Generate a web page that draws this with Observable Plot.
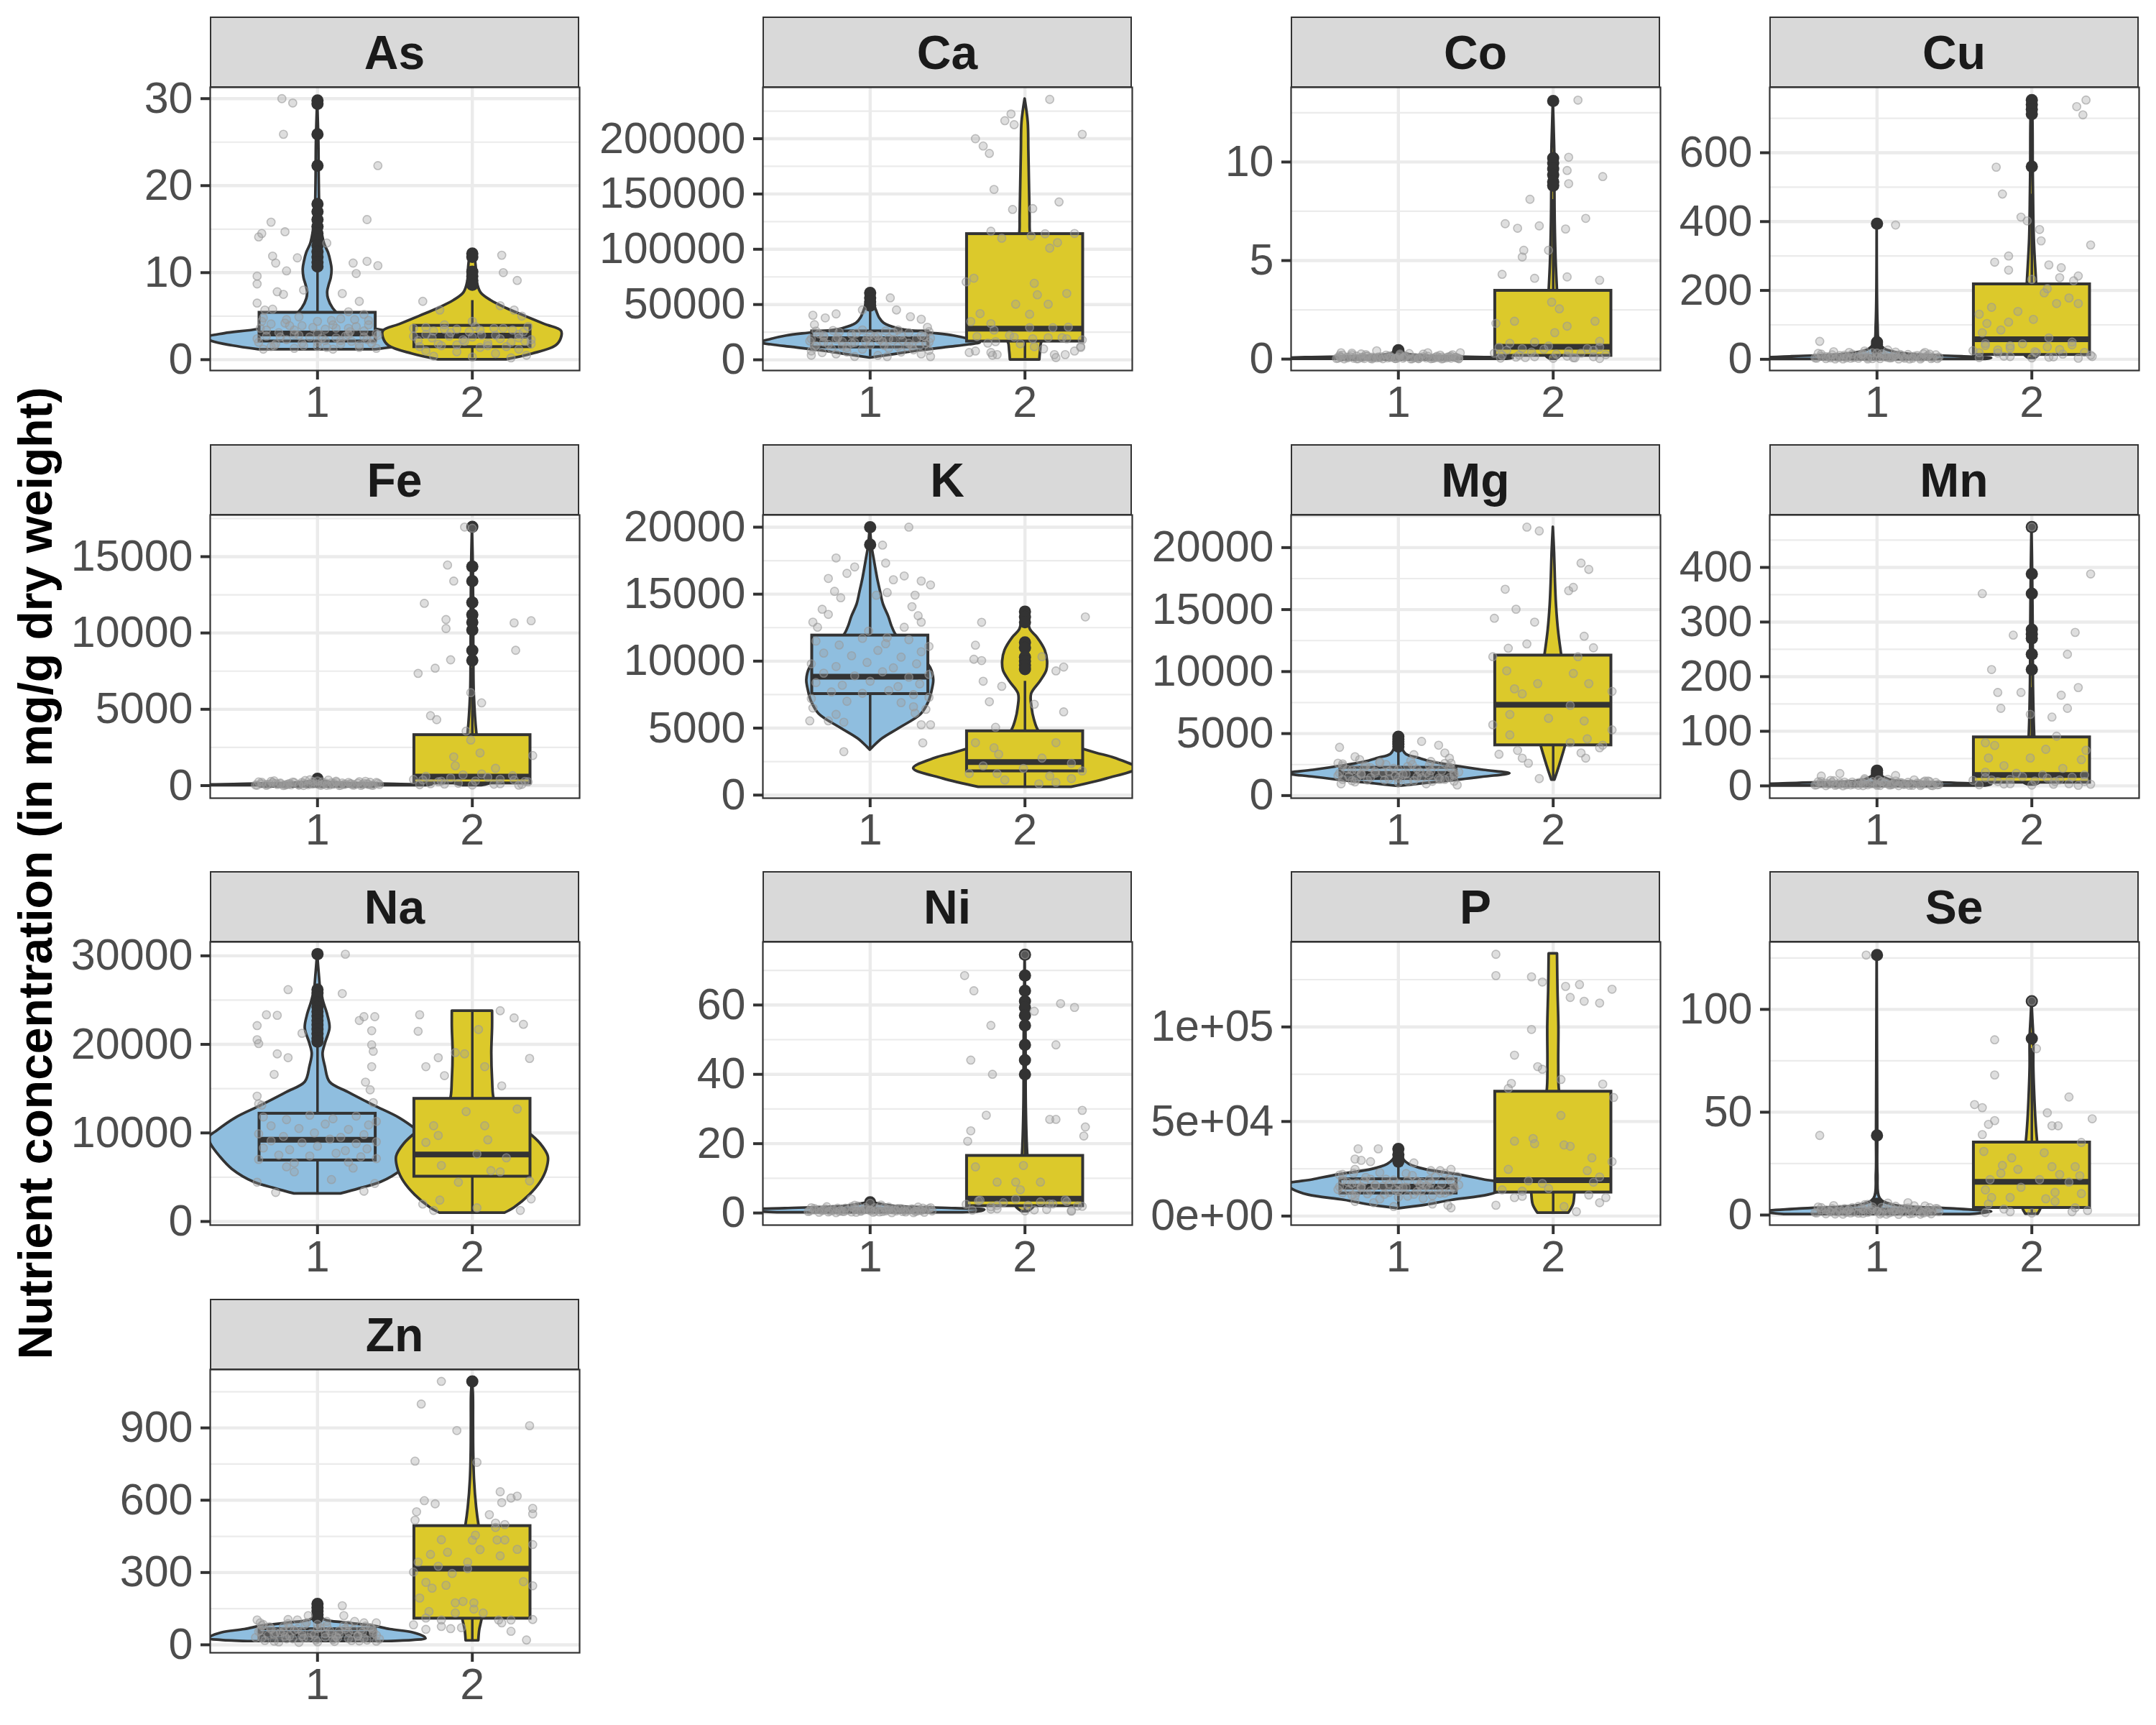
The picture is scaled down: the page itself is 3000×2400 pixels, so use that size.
<!DOCTYPE html>
<html><head><meta charset="utf-8">
<script src="https://cdn.jsdelivr.net/npm/d3@7"></script>
<script src="https://cdn.jsdelivr.net/npm/@observablehq/plot@0.6"></script>
<style>
body{margin:0;background:#fff;}
#chart{position:relative;width:3000px;height:2400px;background:#fff;font-family:"Liberation Sans",Arial,sans-serif;overflow:hidden;}
.strip{position:absolute;box-sizing:border-box;background:#D9D9D9;border:2.2px solid #333;display:flex;align-items:center;justify-content:center;font-weight:bold;font-size:66px;color:#1A1A1A;}
</style></head><body><div id="chart"></div><script>
// ---------------- DATA ----------------
const elements = ["As","Ca","Co","Cu","Fe","K","Mg","Mn","Na","Ni","P","Se","Zn"];
const groups = [1, 2];

// As
const As_box = [{g:1, lo:1.2, q1:2.1, med:3.0, q3:5.4, hi:10.4},{g:2, lo:0.2, q1:1.45, med:2.75, q3:3.9, hi:6.8}];
const As_out1 = [29.8,29.4,25.9,22.3,17.9,17.0,16.1,15.3,14.5,13.8,13.1,12.4,11.8,11.2,10.7];
const As_out2 = [12.2,11.8,10.1,9.6,9.1,8.6];
const As_vio1 = [[1.15,0.38],[1.6,0.55],[2.1,0.68],[2.5,0.72],[3.0,0.6],[3.5,0.38],[4.2,0.25],[5.0,0.15],[5.9,0.1],[7.0,0.07],[7.8,0.065],[8.6,0.075],[9.4,0.088],[10.4,0.093],[11.3,0.085],[12.3,0.07],[13.3,0.045],[14.5,0.03],[16,0.02],[18,0.013],[21,0.01],[25,0.008],[29.8,0]];
const As_vio2 = [[0,0.22],[0.67,0.39],[1.6,0.54],[2.5,0.575],[3.3,0.575],[4.05,0.47],[5.0,0.34],[5.9,0.22],[6.8,0.12],[7.7,0.055],[9.0,0.03],[10.5,0.025],[11.5,0.018],[12.2,0]];
const As_jit1 = [[-0.23,30.0],[-0.16,29.5],[-0.22,25.9],[0.39,22.3],[-0.30,15.8],[0.32,16.1],[-0.36,14.5],[-0.38,14.1],[-0.21,14.7],[0.06,13.4],[-0.29,11.9],[-0.13,11.7],[0.23,11.1],[0.32,11.3],[0.39,10.8],[-0.27,11.1],[-0.20,10.2],[-0.39,9.6],[-0.39,8.7],[0.25,9.9],[-0.09,8.0],[-0.26,7.8],[-0.22,7.5],[0.16,7.6],[-0.39,6.5],[0.27,6.7],[-0.34,5.7],[-0.29,5.8],[0.2,5.5],[0.3,5.2],[-0.35,4.8],[-0.2,4.6],[0.0,4.4],[0.15,4.7],[0.33,4.5],[-0.3,4.1],[-0.1,3.9],[0.1,4.0],[0.25,3.8],[-0.37,3.6],[-0.15,3.4],[0.05,3.5],[0.3,3.3],[-0.25,3.1],[0.0,3.0],[0.2,2.9],[0.38,3.0],[-0.33,2.7],[-0.05,2.6],[0.12,2.5],[0.3,2.6],[-0.2,2.3],[0.05,2.2],[0.22,2.1],[-0.38,2.0],[-0.1,1.9],[0.15,1.8],[0.35,1.9],[-0.28,1.6],[0.0,1.5],[0.27,1.4],[-0.15,1.3],[0.1,1.2],[0.38,1.3],[-0.35,1.2],[0.2,3.6],[-0.12,2.8],[0.32,2.3]];
const As_jit1b = [[-0.39,2.4],[-0.33,3.4],[-0.27,1.8],[-0.21,4.2],[-0.15,2.9],[-0.09,1.6],[-0.03,3.7],[0.03,2.5],[0.09,4.5],[0.15,2.2],[0.21,3.2],[0.27,1.7],[0.33,4.0],[0.39,2.8],[-0.36,4.4],[-0.24,2.6],[-0.12,4.9],[0.0,2.0],[0.12,3.6],[0.24,4.6],[0.36,2.3],[-0.3,1.5],[-0.18,3.9],[0.06,1.4],[0.18,2.7]];
const As_jit2 = [[0.19,12.0],[0.2,10.0],[0.29,9.1],[-0.32,6.7],[0.18,6.2],[0.27,5.7],[0.32,5.0],[-0.21,5.7],[0.0,4.4],[-0.38,3.6],[-0.25,3.3],[-0.1,3.5],[0.05,3.4],[0.2,3.6],[0.33,3.2],[-0.3,2.9],[-0.15,2.7],[0.0,2.6],[0.15,2.8],[0.3,2.5],[-0.35,2.2],[-0.05,2.1],[0.1,1.9],[0.25,2.0],[0.38,1.8],[-0.2,1.6],[0.05,1.4],[0.3,1.2],[-0.3,1.0],[-0.1,0.9],[0.15,0.7],[0.35,0.5],[-0.25,0.4],[0.0,0.3],[0.25,0.2],[0.36,3.8],[-0.18,4.0]];
const As_jit2b = [[-0.38,2.7],[-0.3,3.7],[-0.22,1.8],[-0.14,3.1],[-0.06,2.3],[0.02,3.8],[0.1,1.6],[0.18,2.4],[0.26,3.4],[0.34,2.1],[-0.34,1.5],[-0.26,2.5],[-0.18,3.5],[-0.1,1.7],[-0.02,3.2],[0.06,2.8],[0.14,3.6],[0.22,1.5],[0.3,2.9],[0.38,2.3]];

// Ca
const Ca_box = [{g:1, lo:2900, q1:11300, med:18600, q3:25800, hi:46000},{g:2, lo:1000, q1:16600, med:28200, q3:113800, hi:113800}];
const Ca_out1 = [60500,56000,52500,49000];
const Ca_out2 = [];
const Ca_vio1 = [[1700,0],[4100,0.12],[7700,0.29],[11300,0.5],[13700,0.64],[15400,0.71],[18600,0.64],[21700,0.54],[24600,0.37],[28200,0.18],[33000,0.09],[37900,0.06],[42700,0.045],[48700,0.03],[56000,0.02],[60800,0]];
const Ca_vio2 = [[0,0.095],[8000,0.1],[16600,0.11],[30000,0.2],[60000,0.15],[100000,0.06],[113800,0.035],[130000,0.032],[160000,0.028],[190000,0.024],[215000,0.02],[236000,0]];
const Ca_jit1 = [[-0.37,40300],[-0.29,37900],[-0.22,41500],[0.13,56000],[0.17,45100],[0.33,36700],[0.26,39000],[-0.05,45100],[-0.36,31800],[0.37,29400],[-0.38,4100],[-0.31,6500],[-0.22,5300],[0.11,2900],[0.33,5300],[0.39,2900],[-0.35,26000],[-0.2,25000],[-0.05,27000],[0.1,26000],[0.25,24500],[0.38,25500],[-0.3,22000],[-0.12,23000],[0.05,21500],[0.2,22500],[0.35,21000],[-0.38,19000],[-0.22,18500],[-0.02,19500],[0.15,18000],[0.3,19000],[-0.3,16000],[-0.1,15500],[0.08,16500],[0.25,15000],[0.38,16000],[-0.35,13000],[-0.18,12500],[0.0,13500],[0.18,12000],[0.32,13000],[-0.25,10000],[-0.05,9500],[0.12,10500],[0.28,9000],[-0.38,8000],[0.38,8500],[-0.15,7000],[0.2,7000],[0.05,4000],[-0.1,3000]];
const Ca_jit1b = [[-0.39,17000],[-0.33,23500],[-0.27,14000],[-0.21,20000],[-0.15,11000],[-0.09,24000],[-0.03,16500],[0.03,21000],[0.09,13000],[0.15,25000],[0.21,17500],[0.27,12500],[0.33,22000],[0.39,19500],[-0.36,11500],[-0.24,26500],[-0.12,15000],[0.0,22500],[0.12,19000],[0.24,11500],[0.36,14500],[-0.3,20500],[-0.18,16500],[0.06,18000],[0.18,27000]];
const Ca_jit2 = [[0.16,235600],[-0.09,222400],[-0.13,216300],[-0.07,212700],[-0.32,200000],[0.37,204000],[-0.27,193400],[-0.23,186700],[-0.2,154100],[0.22,142800],[-0.08,136000],[0.05,136800],[-0.22,116300],[0.32,114300],[-0.15,110000],[0.04,112000],[0.13,114000],[0.16,101000],[0.21,106000],[-0.38,70500],[-0.33,73800],[0.06,69200],[0.08,58800],[0.27,60000],[-0.06,50300],[0.15,50300],[-0.29,41800],[0.03,41200],[-0.35,34600],[-0.22,32700],[-0.2,26900],[0.03,29000],[0.18,29000],[0.28,29500],[-0.31,21000],[-0.1,22000],[-0.07,20500],[0.05,19000],[0.15,20000],[0.24,20000],[0.27,19000],[0.37,18000],[-0.24,15100],[-0.19,16400],[-0.03,14500],[0.06,11900],[0.12,9900],[0.36,11900],[-0.36,6600],[-0.32,7900],[-0.22,6600],[-0.18,4700],[0.19,4700],[0.26,4700],[0.32,7900],[0.36,11200],[-0.21,4100],[0.2,2000]];

// Co
const Co_box = [{g:1, lo:0, q1:0.03, med:0.06, q3:0.1, hi:0.2},{g:2, lo:0.02, q1:0.17, med:0.62, q3:3.47, hi:8.1}];
const Co_out1 = [0.45,0.38];
const Co_out2 = [13.1,10.2,9.95,9.65,9.35,9.0,8.8];
const Co_vio1 = [[0,0.7],[0.03,0.74],[0.08,0.6],[0.15,0.2],[0.25,0.06],[0.45,0]];
const Co_vio2 = [[0,0.02],[0.15,0.045],[0.5,0.05],[1.5,0.04],[3,0.03],[5,0.018],[7,0.012],[9,0.01],[10.2,0.01],[11.5,0.006],[13.1,0]];
const Co_jit1 = [[-0.39,0.05],[-0.33,0.1],[-0.27,0.02],[-0.2,0.15],[-0.14,0.06],[-0.08,0.2],[-0.02,0.03],[0.04,0.12],[0.1,0.07],[0.16,0.25],[0.22,0.04],[0.28,0.1],[0.34,0.16],[0.39,0.03],[-0.36,0.2],[-0.24,0.08],[-0.11,0.12],[0.01,0.18],[0.13,0.02],[0.25,0.14],[0.37,0.09],[-0.3,0.3],[0.19,0.32],[-0.05,0.08],[0.07,0.28],[-0.17,0.01],[0.31,0.06],[-0.21,0.23],[0.35,0.22],[-0.38,0.12],[-0.37,0.32],[-0.24,0.26],[-0.14,0.42],[0.4,0.32]];
const Co_jit1b = [[-0.40,0.03],[-0.37,0.08],[-0.35,0.01],[-0.31,0.12],[-0.29,0.05],[-0.26,0.02],[-0.23,0.09],[-0.21,0.14],[-0.18,0.04],[-0.16,0.07],[-0.13,0.11],[-0.10,0.02],[-0.07,0.06],[-0.05,0.13],[-0.02,0.03],[0.00,0.09],[0.03,0.05],[0.05,0.15],[0.08,0.01],[0.11,0.08],[0.13,0.04],[0.16,0.12],[0.18,0.06],[0.21,0.02],[0.24,0.10],[0.26,0.07],[0.29,0.03],[0.32,0.11],[0.34,0.05],[0.37,0.08],[0.39,0.02],[-0.38,0.18],[-0.33,0.06],[-0.27,0.15],[-0.22,0.03],[-0.17,0.10],[-0.12,0.07],[-0.06,0.16],[-0.01,0.04],[0.04,0.12],[0.09,0.02],[0.14,0.09],[0.19,0.14],[0.23,0.05],[0.28,0.01],[0.33,0.11],[0.38,0.06],[-0.30,0.22],[0.01,0.25],[0.27,0.20]];
const Co_jit2 = [[0.16,13.14],[0.10,10.24],[0.09,9.57],[0.10,8.9],[0.32,9.26],[-0.15,8.11],[0.21,7.14],[-0.31,6.87],[-0.23,6.64],[-0.09,6.76],[0.08,6.6],[-0.19,5.52],[-0.2,5.18],[-0.03,5.52],[-0.33,4.3],[-0.12,4.1],[0.09,4.17],[0.3,4.0],[-0.01,2.89],[0.04,2.55],[-0.25,1.92],[0.27,1.92],[0.09,1.67],[0.01,1.34],[-0.37,1.81],[-0.28,0.8],[-0.12,0.86],[0.3,0.9],[-0.35,0.6],[-0.2,0.53],[-0.03,0.66],[0.22,0.53],[0.3,0.6],[-0.33,0.19],[-0.12,0.12],[0.09,0.15],[0.26,0.12],[-0.24,0.1],[0.13,0.07]];
const Co_jit2b = [[-0.38,0.3],[-0.3,0.45],[-0.22,0.2],[-0.14,0.35],[-0.06,0.5],[0.02,0.25],[0.1,0.4],[0.18,0.3],[0.26,0.45],[0.34,0.22],[-0.34,0.05],[-0.18,0.08],[0.0,0.04],[0.14,0.06],[0.3,0.03]];

// Cu
const Cu_box = [{g:1, lo:0, q1:2, med:5, q3:10, hi:22},{g:2, lo:3, q1:13, med:58, q3:218, hi:480}];
const Cu_out1 = [394,50,44,27];
const Cu_out2 = [753,740,726,712,560];
const Cu_vio1 = [[0,0.7],[3,0.74],[8,0.55],[15,0.2],[30,0.05],[50,0.015],[100,0.006],[394,0]];
const Cu_vio2 = [[3,0.02],[15,0.05],[50,0.05],[120,0.04],[220,0.03],[350,0.015],[480,0.01],[560,0.008],[700,0.006],[753,0]];
const Cu_jit1 = [[-0.37,52],[0.12,390],[-0.39,3],[-0.33,8],[-0.27,1],[-0.21,12],[-0.15,5],[-0.09,16],[-0.03,2],[0.03,9],[0.09,4],[0.15,14],[0.21,1],[0.27,7],[0.33,11],[0.39,2],[-0.36,15],[-0.24,6],[-0.12,10],[0.0,18],[0.06,6],[0.18,3],[0.3,16],[0.36,5],[-0.3,4],[-0.18,20],[0.24,9],[-0.06,1],[0.12,12]];
const Cu_jit1b = [[-0.40,4],[-0.36,9],[-0.33,2],[-0.29,13],[-0.26,6],[-0.22,1],[-0.19,8],[-0.16,15],[-0.12,3],[-0.09,10],[-0.06,5],[-0.03,19],[0.00,7],[0.02,2],[0.05,12],[0.08,4],[0.11,9],[0.14,1],[0.17,6],[0.20,14],[0.23,3],[0.26,11],[0.29,5],[0.32,8],[0.35,2],[0.38,13],[0.40,6],[-0.38,17],[-0.31,7],[-0.24,11],[-0.17,3],[-0.10,14],[-0.04,9],[0.03,16],[0.10,6],[0.16,11],[0.22,8],[0.28,1],[0.34,15],[-0.28,22],[-0.08,24],[0.12,21],[0.31,20],[-0.20,4],[0.07,27]];
const Cu_jit2 = [[0.35,753],[0.29,734],[0.33,710],[-0.23,558],[-0.19,480],[-0.07,413],[-0.03,402],[0.05,377],[0.06,344],[0.38,332],[-0.24,282],[-0.15,300],[-0.15,259],[0.11,274],[0.19,266],[0.18,237],[0.3,242],[0.27,228],[0.0,232],[0.1,205],[0.08,193],[0.24,178],[0.3,162],[0.16,162],[-0.26,151],[-0.09,139],[-0.34,131],[0.01,116],[-0.15,108],[-0.29,104],[-0.2,85],[-0.32,77],[0.11,62],[0.26,50],[-0.3,46],[-0.14,39],[-0.22,27],[-0.34,19],[0.03,19],[0.2,15],[0.38,12],[-0.14,8],[0.11,6],[0.39,8]];
const Cu_jit2b = [[-0.38,25],[-0.3,40],[-0.22,18],[-0.14,32],[-0.06,45],[0.02,22],[0.1,36],[0.18,28],[0.26,42],[0.34,20],[-0.34,5],[-0.18,9],[0.0,4],[0.14,7],[0.3,3]];

// Fe
const Fe_box = [{g:1, lo:0, q1:20, med:50, q3:100, hi:230},{g:2, lo:0, q1:150, med:590, q3:3313, hi:7700}];
const Fe_out1 = [450,350];
const Fe_out2 = [16950,14350,13400,12000,11200,10700,10200,8850,8200];
const Fe_vio1 = [[0,0.7],[30,0.74],[90,0.5],[180,0.12],[300,0.03],[450,0]];
const Fe_vio2 = [[0,0.06],[200,0.12],[600,0.1],[1500,0.06],[3300,0.03],[6000,0.012],[8000,0.009],[11000,0.008],[14000,0.006],[16950,0]];
const Fe_jit1 = [[-0.39,20],[-0.33,80],[-0.27,150],[-0.21,40],[-0.15,200],[-0.09,10],[-0.03,100],[0.03,60],[0.09,180],[0.15,30],[0.21,120],[0.27,250],[0.33,70],[0.39,160],[-0.36,220],[-0.24,110],[-0.12,60],[0.0,300],[0.06,20],[0.18,90],[0.3,140],[0.36,30],[-0.3,270],[-0.18,140],[0.24,50],[0.12,230],[-0.05,380]];
const Fe_jit1b = [[-0.40,40],[-0.36,120],[-0.33,15],[-0.29,190],[-0.26,70],[-0.22,5],[-0.19,100],[-0.16,230],[-0.12,35],[-0.09,150],[-0.06,60],[-0.03,260],[0.00,90],[0.02,20],[0.05,170],[0.08,45],[0.11,130],[0.14,10],[0.17,80],[0.20,210],[0.23,30],[0.26,160],[0.29,55],[0.32,110],[0.35,25],[0.38,200],[0.40,75],[-0.38,240],[-0.31,95],[-0.24,165],[-0.17,50],[-0.10,205],[-0.04,125],[0.03,235],[0.10,85],[0.16,175],[0.22,115],[0.28,15],[0.34,215],[-0.28,310],[-0.08,330],[0.12,290],[0.31,280],[-0.20,60],[0.07,360]];
const Fe_jit2 = [[-0.05,16940],[0.0,16860],[-0.16,14450],[-0.12,13400],[-0.31,11940],[-0.17,10880],[-0.17,10290],[0.27,10660],[0.38,10800],[0.28,8864],[-0.14,8240],[-0.24,7690],[-0.35,7350],[-0.01,6090],[0.06,5420],[-0.27,4580],[-0.23,4320],[-0.04,3570],[-0.01,2980],[0.05,2140],[-0.12,1880],[-0.11,1300],[0.15,1130],[0.39,1970],[0.06,760],[-0.32,370],[-0.2,290],[0.27,370],[0.36,250],[-0.27,120],[-0.09,150],[0.18,120],[0.32,80]];
const Fe_jit2b = [[-0.38,400],[-0.3,600],[-0.22,250],[-0.14,500],[-0.06,700],[0.02,300],[0.1,550],[0.18,420],[0.26,650],[0.34,280],[-0.34,60],[-0.18,100],[0.0,40],[0.14,90],[0.3,30]];

// K
const K_box = [{g:1, lo:3364, q1:7549, med:8833, q3:11917, hi:18300},{g:2, lo:594, q1:1780, med:2470, q3:4770, hi:8500}];
const K_out1 = [20000,18700];
const K_out2 = [13700,13300,12900,11400,11000,10300,10000,9700,9400];
const K_vio1 = [[3364,0],[3600,0.02],[4220,0.08],[5000,0.19],[6050,0.33],[7000,0.38],[7820,0.40],[8600,0.41],[9500,0.39],[10500,0.32],[11300,0.24],[11917,0.17],[12600,0.14],[13300,0.12],[14250,0.085],[15200,0.066],[16200,0.047],[17100,0.033],[17700,0.024],[18500,0.012],[20000,0]];
const K_vio2 = [[594,0.3],[1226,0.53],[1990,0.72],[2760,0.58],[3140,0.46],[3700,0.3],[4300,0.15],[4770,0.09],[5630,0.06],[6500,0.045],[7550,0.042],[8500,0.1],[9300,0.14],[10000,0.145],[10800,0.13],[11760,0.08],[12340,0.035],[13000,0.02],[13680,0]];
const K_jit1 = [[0.25,20000],[0.08,18660],[-0.22,17700],[0.1,17320],[-0.27,16170],[-0.15,16550],[-0.1,17030],[0.22,16360],[0.15,16075],[0.33,15980],[0.39,15690],[-0.23,15210],[0.11,15120],[0.29,14925],[-0.19,14730],[0.04,14920],[0.27,14065],[-0.31,13870],[-0.27,13490],[-0.37,12910],[0.31,13390],[0.33,12910],[0.22,12530],[-0.34,12530],[-0.01,12240],[0.11,11760],[-0.39,5540],[-0.27,5540],[-0.17,5440],[-0.37,6500],[-0.22,6020],[0.33,5250],[0.39,5250],[0.29,6110],[0.36,6400],[-0.17,3240],[0.34,3900],[0.28,6590],[-0.35,11500],[-0.2,11200],[-0.05,11700],[0.1,11300],[0.25,11600],[0.38,11100],[-0.3,10600],[-0.12,10400],[0.05,10800],[0.2,10300],[0.33,10700],[-0.38,9800],[-0.22,9600],[-0.02,9900],[0.15,9500],[0.3,9800],[-0.3,9100],[-0.1,8900],[0.08,9200],[0.25,8800],[0.38,9000],[-0.35,8400],[-0.18,8200],[0.0,8500],[0.18,8100],[0.32,8300],[-0.25,7700],[-0.05,7600],[0.12,7800],[0.28,7500],[-0.38,7200],[0.38,7300],[-0.15,7000],[0.2,6900]];
const K_jit2 = [[0.39,13300],[-0.28,12900],[-0.32,11190],[-0.33,10140],[-0.28,10040],[0.11,10330],[0.2,9270],[0.25,9560],[-0.27,8500],[-0.15,8120],[-0.23,6970],[0.06,6780],[0.25,6210],[-0.19,5060],[0.2,3910],[-0.32,3910],[-0.2,3530],[-0.17,3050],[0.11,2760],[0.3,2380],[-0.27,2180],[-0.01,1990],[-0.18,1610],[0.16,1420],[-0.13,1130],[0.09,840],[0.3,1230],[0.37,1800],[-0.36,1610],[0.2,940]];

// Mg
const Mg_box = [{g:1, lo:800, q1:1350, med:1750, q3:2250, hi:3500},{g:2, lo:1260, q1:4060, med:7330, q3:11300, hi:11300}];
const Mg_out1 = [4750,4550,4350,4150,3950];
const Mg_out2 = [];
const Mg_vio1 = [[745,0],[950,0.15],[1200,0.35],[1500,0.55],[1780,0.72],[2050,0.55],[2400,0.36],[2700,0.22],[3020,0.13],[3330,0.05],[3800,0.025],[4750,0]];
const Mg_vio2 = [[1260,0.01],[2000,0.03],[3000,0.055],[3850,0.075],[5000,0.1],[7000,0.12],[9000,0.1],[11300,0.055],[11700,0.05],[13370,0.033],[15440,0.02],[17500,0.013],[19580,0.008],[21650,0]];
const Mg_jit1 = [[-0.38,3890],[-0.28,3130],[0.15,4370],[0.26,4060],[0.3,3440],[0.33,3020],[0.34,2610],[0.36,1160],[0.38,850],[-0.37,950],[0.18,950],[-0.39,2610],[-0.36,2400],[-0.22,2300],[-0.08,2500],[0.06,2350],[0.2,2450],[0.34,2200],[-0.3,2050],[-0.15,1950],[0.0,2100],[0.14,1900],[0.28,2000],[-0.38,1800],[-0.24,1700],[-0.1,1850],[0.05,1750],[0.2,1650],[0.36,1800],[-0.32,1550],[-0.18,1450],[-0.02,1600],[0.12,1500],[0.26,1400],[-0.36,1300],[-0.2,1250],[-0.06,1350],[0.1,1200],[0.3,1300],[-0.28,1100],[0.0,1050],[0.22,1150],[-0.12,2700],[0.08,2800],[-0.25,2900],[0.1,3300]];
const Mg_jit1b = [[-0.39,1600],[-0.33,2100],[-0.27,1350],[-0.21,2400],[-0.15,1800],[-0.09,1250],[-0.03,2200],[0.03,1700],[0.09,2500],[0.15,1450],[0.21,2000],[0.27,1300],[0.33,2300],[0.39,1900],[-0.36,2550],[-0.24,1750],[-0.12,2650],[0.0,1400],[0.12,2150],[0.24,2450],[0.36,1650],[-0.3,1200],[-0.18,2250],[0.06,1150],[0.18,1850],[0.3,2600],[-0.06,1950],[0.33,1450],[-0.27,2050],[0.21,2750]];
const Mg_jit2 = [[-0.17,21650],[-0.09,21340],[0.18,18750],[0.23,18240],[-0.31,16640],[0.1,16520],[0.13,16790],[-0.24,15030],[-0.38,14300],[-0.12,13990],[0.2,12850],[-0.17,12230],[-0.29,11880],[0.26,11920],[-0.39,11200],[0.16,11200],[-0.3,10060],[0.13,9850],[-0.1,9030],[0.23,9030],[-0.25,8610],[-0.2,8200],[0.38,8400],[0.11,7270],[-0.28,6540],[-0.03,6230],[0.2,6020],[-0.39,5710],[0.38,5300],[-0.28,4890],[0.22,4575],[0.11,4260],[-0.23,3640],[-0.35,3330],[-0.2,3020],[0.18,3440],[0.3,3850],[0.21,3020],[-0.09,1370],[-0.16,2610],[0.32,4060]];

// Mn
const Mn_box = [{g:1, lo:0, q1:1, med:2.5, q3:5, hi:11},{g:2, lo:2, q1:6, med:20, q3:89, hi:180}];
const Mn_out1 = [28,24,21,18];
const Mn_out2 = [474,388,352,286,278,270,241,213];
const Mn_vio1 = [[0,0.7],[2,0.74],[5,0.5],[10,0.1],[18,0.03],[28,0]];
const Mn_vio2 = [[2,0.02],[6,0.05],[20,0.045],[60,0.025],[90,0.018],[180,0.01],[280,0.008],[400,0.004],[474,0]];
const Mn_jit1 = [[-0.36,18],[-0.24,22.6],[-0.08,13],[0.12,19],[0.01,11],[-0.39,2],[-0.33,5],[-0.27,1],[-0.21,7],[-0.15,3],[-0.09,0.5],[-0.03,4],[0.03,8],[0.09,2],[0.15,6],[0.21,1],[0.27,4],[0.33,9],[0.39,2],[-0.36,8],[-0.24,3],[-0.12,6],[0.0,1],[0.06,5],[0.18,3],[0.3,7],[0.36,0.5],[-0.3,10],[0.24,11]];
const Mn_jit1b = [[-0.40,1.5],[-0.36,4],[-0.33,0.5],[-0.29,6],[-0.26,2.5],[-0.22,0.2],[-0.19,3.5],[-0.16,7],[-0.12,1.2],[-0.09,5],[-0.06,2],[-0.03,8],[0.00,3],[0.02,0.8],[0.05,5.5],[0.08,1.6],[0.11,4.2],[0.14,0.4],[0.17,2.8],[0.20,6.5],[0.23,1],[0.26,5.2],[0.29,2.2],[0.32,3.8],[0.35,0.9],[0.38,6.2],[0.40,2.6],[-0.38,7.5],[-0.31,3.2],[-0.24,5.8],[-0.17,1.8],[-0.10,6.8],[-0.04,4.5],[0.03,7.2],[0.10,2.9],[0.16,5.6],[0.22,3.9],[0.28,0.6],[0.34,7.8],[-0.28,9.5],[-0.08,10.5],[0.12,9],[0.31,8.8],[-0.20,2],[0.07,12]];
const Mn_jit2 = [[0,474],[0.38,388],[-0.32,352],[-0.12,276],[0.28,281],[0.23,241],[-0.26,213],[-0.22,171],[-0.07,171],[0.3,180],[0.19,166],[-0.2,142],[0.23,142],[-0.01,131],[0.13,126],[0.16,91],[-0.3,79],[-0.24,74],[0.09,67],[0.35,65],[-0.28,51],[-0.01,51],[0.32,48],[-0.18,37],[0.2,32],[-0.3,25],[-0.1,23],[0.07,20],[0.34,20],[-0.26,11],[0.15,8],[-0.14,4],[0.24,4],[0.38,3]];
const Mn_jit2b = [[-0.38,10],[-0.3,15],[-0.22,8],[-0.14,12],[-0.06,17],[0.02,9],[0.1,14],[0.18,11],[0.26,16],[0.34,8],[-0.34,2],[-0.18,3.5],[0.0,1.5],[0.14,3],[0.3,1]];

// Na
const Na_box = [{g:1, lo:3130, q1:6900, med:9220, q3:12180, hi:19900},{g:2, lo:957, q1:5070, med:7570, q3:13860, hi:23770}];
const Na_out1 = [30200,26200,25800,25300,24700,24200,23700,23200,22700,22200,21700,21200,20700,20300];
const Na_out2 = [];
const Na_vio1 = [[3130,0.15],[3700,0.27],[4435,0.41],[5885,0.55],[7330,0.63],[8780,0.69],[9500,0.7],[10230,0.65],[11680,0.53],[13130,0.36],[14580,0.2],[15740,0.08],[17480,0.05],[18930,0.035],[20090,0.05],[21830,0.08],[23280,0.066],[24730,0.04],[26180,0.02],[27630,0.012],[30240,0]];
const Na_vio2 = [[957,0.21],[1540,0.27],[2990,0.37],[4435,0.44],[5885,0.48],[7330,0.49],[8780,0.44],[10230,0.35],[11500,0.25],[12800,0.17],[13860,0.14],[16000,0.13],[19000,0.125],[22000,0.13],[23770,0.13]];
const Na_jit1 = [[0.18,30180],[-0.19,26180],[0.16,25740],[-0.33,23340],[-0.26,23280],[-0.39,22120],[-0.1,21250],[-0.39,20520],[-0.38,20090],[0.27,22700],[0.3,23130],[0.37,23130],[0.35,21540],[0.35,19950],[-0.26,18930],[-0.19,18500],[0.36,19220],[0.35,17480],[-0.28,16610],[0.31,15740],[0.34,14870],[0.36,13420],[-0.39,14150],[-0.38,13280],[-0.36,13130],[-0.39,4435],[-0.27,3280],[0.3,3420],[0.37,4290],[-0.15,5600],[0.09,4730],[-0.2,6170],[0.23,6030],[-0.35,11800],[-0.2,11500],[-0.05,12000],[0.1,11600],[0.25,11900],[0.38,11300],[-0.3,10800],[-0.12,10500],[0.05,11000],[0.2,10400],[0.33,10900],[-0.38,9900],[-0.22,9600],[-0.02,10000],[0.15,9500],[0.3,9800],[-0.3,9100],[-0.1,8900],[0.08,9300],[0.25,8800],[0.38,9000],[-0.35,8300],[-0.18,8100],[0.0,8500],[0.18,8000],[0.32,8200],[-0.25,7500],[-0.05,7400],[0.12,7700],[0.28,7300],[-0.38,7000],[0.38,7100],[-0.15,6600],[0.2,6700]];
const Na_jit2 = [[-0.34,23340],[0.18,23800],[0.27,22990],[0.33,22260],[-0.35,21480],[0.04,21680],[-0.11,19075],[-0.05,18930],[-0.22,18500],[0.37,18410],[-0.3,17480],[0.08,17480],[-0.18,16470],[0.19,15310],[-0.25,10810],[-0.04,12410],[0.29,12700],[-0.22,9710],[0.08,10810],[-0.3,8930],[0.1,9220],[0.03,7620],[0.22,7190],[-0.2,6320],[0.12,5740],[-0.09,4435],[0.18,5600],[0.37,4580],[-0.32,1970],[-0.21,2410],[0.38,2550],[0.31,1250],[0.03,1540],[-0.25,1250]];

// Ni
const Ni_box = [{g:1, lo:0.1, q1:0.5, med:0.8, q3:1.1, hi:1.9},{g:2, lo:0.4, q1:2.0, med:4.1, q3:16.5, hi:29.6}];
const Ni_out1 = [3.1,2.6,2.3];
const Ni_out2 = [74.5,68.5,64.1,61.1,59.3,57.0,54.1,48.5,44.1,40.0];
const Ni_vio1 = [[0.1,0.6],[0.5,0.72],[0.9,0.74],[1.3,0.55],[2,0.15],[3.1,0]];
const Ni_vio2 = [[0.4,0.02],[2,0.06],[5,0.05],[15,0.02],[30,0.008],[50,0.006],[74.5,0]];
const Ni_jit1 = [[-0.39,0.6],[-0.33,1.0],[-0.27,0.3],[-0.21,1.4],[-0.15,0.8],[-0.09,0.2],[-0.03,1.1],[0.03,0.5],[0.09,1.6],[0.15,0.9],[0.21,0.4],[0.27,1.2],[0.33,0.7],[0.39,1.5],[-0.36,1.3],[-0.24,0.7],[-0.12,1.8],[0.0,0.9],[0.06,0.3],[0.18,1.3],[0.3,0.5],[0.36,1.0],[-0.3,0.9],[-0.18,0.5],[0.24,0.8],[0.12,1.1],[-0.06,0.6],[0.0,2.8],[-0.1,2.2]];
const Ni_jit1b = [[-0.40,0.4],[-0.36,0.9],[-0.33,0.2],[-0.29,1.2],[-0.26,0.6],[-0.22,0.1],[-0.19,0.8],[-0.16,1.4],[-0.12,0.3],[-0.09,1.0],[-0.06,0.5],[-0.03,1.6],[0.00,0.7],[0.02,0.2],[0.05,1.1],[0.08,0.4],[0.11,0.9],[0.14,0.1],[0.17,0.6],[0.20,1.3],[0.23,0.3],[0.26,1.0],[0.29,0.5],[0.32,0.8],[0.35,0.2],[0.38,1.2],[0.40,0.6],[-0.38,1.5],[-0.31,0.7],[-0.24,1.1],[-0.17,0.4],[-0.10,1.3],[-0.04,0.9],[0.03,1.5],[0.10,0.6],[0.16,1.1],[0.22,0.8],[0.28,0.1],[0.34,1.4],[-0.28,1.8],[-0.08,2.0],[0.12,1.7],[0.31,1.7],[-0.20,0.5],[0.07,2.3]];
const Ni_jit2 = [[0,74.5],[-0.39,68.5],[-0.33,64.1],[0.06,58.2],[0.23,60.4],[0.32,59.3],[-0.22,54.1],[0.2,48.5],[-0.35,44.1],[-0.21,40.0],[-0.25,28.2],[0.37,29.6],[0.16,27],[0.2,27],[0.39,24.8],[-0.35,23.7],[-0.37,20.7],[0.38,22.2],[-0.01,13.7],[-0.32,13.3],[-0.18,8.9],[-0.06,8.9],[0.1,8.9],[-0.03,6.7],[-0.29,3.7],[0.27,3.3],[-0.18,2.2],[0.16,2.6],[0.37,1.9],[-0.22,1.1],[0.06,0.9],[0.3,0.7]];
const Ni_jit2b = [[-0.38,2.5],[-0.3,3.5],[-0.22,1.8],[-0.14,3],[-0.06,4],[0.02,2.2],[0.1,3.2],[0.18,2.6],[0.26,3.8],[0.34,2],[-0.34,0.8],[-0.18,1.2],[0.0,0.6],[0.14,1],[0.3,0.5]];

// P
const P_box = [{g:1, lo:4000, q1:12000, med:15500, q3:19500, hi:27000},{g:2, lo:1630, q1:12480, med:19000, q3:65810, hi:65810}];
const P_out1 = [35500,32500,30500,28800];
const P_out2 = [];
const P_vio1 = [[3935,0],[5700,0.17],[8410,0.35],[11130,0.58],[14000,0.68],[16560,0.72],[19270,0.55],[21980,0.38],[24700,0.17],[27400,0.07],[30130,0.03],[35500,0]];
const P_vio2 = [[1630,0.1],[6000,0.13],[12480,0.14],[20000,0.15],[40000,0.1],[65810,0.04],[80000,0.035],[100000,0.036],[120000,0.03],[138700,0.027]];
const P_jit1 = [[-0.26,35550],[-0.13,35550],[-0.28,30130],[-0.24,29450],[-0.18,28770],[0.1,28090],[-0.28,24700],[-0.29,22660],[0.34,24700],[0.27,24020],[-0.38,21710],[0.15,17910],[-0.16,7060],[-0.28,7740],[0.32,5700],[0.34,4340],[0.22,6380],[-0.03,5020],[-0.36,19000],[-0.22,18500],[-0.08,19500],[0.06,18800],[0.2,19200],[0.34,18400],[-0.3,17000],[-0.15,16500],[0.0,17200],[0.14,16300],[0.28,16900],[-0.38,15500],[-0.24,15000],[-0.1,15800],[0.05,15200],[0.2,14800],[0.36,15400],[-0.32,13800],[-0.18,13300],[-0.02,14000],[0.12,13100],[0.26,13600],[-0.36,12200],[-0.2,11800],[-0.06,12500],[0.1,11500],[0.3,12100],[-0.28,10500],[0.0,10000],[0.22,10800],[-0.12,9000],[0.16,9300],[0.38,21000],[0.05,22500]];
const P_jit1b = [[-0.39,14000],[-0.33,18000],[-0.27,12500],[-0.21,20500],[-0.15,16000],[-0.09,11500],[-0.03,19000],[0.03,15000],[0.09,21500],[0.15,13500],[0.21,17500],[0.27,12000],[0.33,20000],[0.39,16500],[-0.36,22000],[-0.24,15500],[-0.12,23000],[0.0,13000],[0.12,18500],[0.24,21000],[0.36,14500],[-0.3,11000],[-0.18,19500],[0.06,10500],[0.18,16000],[0.3,22500],[-0.06,17000],[0.33,13000],[-0.27,17500],[0.21,24000]];
const P_jit2 = [[-0.37,138400],[-0.37,127150],[-0.14,126470],[-0.07,123760],[0.08,121450],[0.17,122400],[0.38,119960],[0.11,115600],[0.2,113580],[0.3,112630],[-0.14,98650],[-0.25,85080],[-0.1,79000],[-0.07,77620],[0.05,72190],[-0.27,70150],[-0.29,67440],[0.32,69750],[0.39,62690],[0.05,53190],[-0.25,39620],[-0.13,40980],[-0.12,38270],[0.07,37590],[0.11,36910],[0.25,30800],[0.38,28770],[-0.29,24700],[0.22,24020],[0.3,20630],[-0.16,18590],[-0.07,17230],[0.26,17910],[-0.33,13840],[-0.2,13160],[-0.03,14520],[-0.25,9770],[-0.2,10450],[0.23,11130],[0.34,9770],[-0.37,5700],[0.15,2310],[0.07,5020],[0.3,7060]];

// Se
const Se_box = [{g:1, lo:0.3, q1:1.0, med:1.8, q3:2.7, hi:5.0},{g:2, lo:0.5, q1:3.5, med:16.2, q3:35.3, hi:81}];
const Se_out1 = [126.4,38.7,5.5];
const Se_out2 = [104,85.8];
const Se_vio1 = [[0.3,0.6],[1.5,0.74],[3,0.5],[5,0.1],[8,0.02],[20,0.005],[39,0.004],[126.4,0]];
const Se_vio2 = [[0.5,0.04],[3.5,0.06],[10,0.07],[20,0.065],[35.3,0.037],[47,0.025],[60,0.017],[72,0.012],[86,0.012],[95,0.006],[104,0]];
const Se_jit1 = [[-0.37,38.7],[-0.07,126.4],[-0.39,1.0],[-0.33,2.5],[-0.27,0.5],[-0.21,3.2],[-0.15,1.5],[-0.09,0.8],[-0.03,2.8],[0.03,1.2],[0.09,3.8],[0.15,2.0],[0.21,0.6],[0.27,2.6],[0.33,1.4],[0.39,3.0],[-0.36,3.6],[-0.24,1.8],[-0.12,4.2],[0.0,1.9],[0.06,0.4],[0.18,3.3],[0.3,1.0],[0.36,2.2],[-0.3,1.6],[-0.18,2.6],[0.24,4.5],[0.12,2.4],[-0.06,5.2],[0.2,6.0]];
const Se_jit1b = [[-0.40,1.2],[-0.36,2.4],[-0.33,0.6],[-0.29,3.1],[-0.26,1.6],[-0.22,0.4],[-0.19,2.1],[-0.16,3.6],[-0.12,0.9],[-0.09,2.7],[-0.06,1.3],[-0.03,4.0],[0.00,1.8],[0.02,0.5],[0.05,2.9],[0.08,1.1],[0.11,2.3],[0.14,0.3],[0.17,1.5],[0.20,3.4],[0.23,0.8],[0.26,2.6],[0.29,1.4],[0.32,2.0],[0.35,0.6],[0.38,3.2],[0.40,1.7],[-0.38,3.9],[-0.31,1.9],[-0.24,2.8],[-0.17,1.0],[-0.10,3.3],[-0.04,2.2],[0.03,3.7],[0.10,1.6],[0.16,2.9],[0.22,2.0],[0.28,0.4],[0.34,3.6],[-0.28,4.6],[-0.08,5.0],[0.12,4.3],[0.31,4.4],[-0.20,1.3],[0.07,5.8]];
const Se_jit2 = [[0,104],[-0.24,85.2],[0.03,80.9],[-0.24,68.1],[0.24,57.4],[-0.37,53.7],[-0.32,52.2],[0.1,49.7],[0.39,46.8],[-0.24,45.9],[-0.28,44.1],[0.13,43.4],[0.17,43.4],[-0.32,39.1],[0.32,35.3],[-0.31,30.9],[0.08,30.3],[-0.13,27.8],[-0.19,24.1],[0.28,23.5],[0.13,23.5],[-0.09,22.2],[-0.2,20.3],[0.18,19.7],[0.31,19.1],[-0.27,17.2],[0.05,17.2],[0.24,16],[-0.07,13.5],[-0.3,12.2],[0.15,11],[0.32,10.4],[-0.14,8.5],[-0.26,8.5],[0.09,7.9],[0.15,6.6],[-0.28,5.4],[0.28,3.5],[0.36,2.2],[-0.14,1.6],[0,1.0],[-0.3,1.2],[-0.18,2.9],[0.26,1.6]];

// Zn
const Zn_box = [{g:1, lo:8, q1:25, med:45, q3:65, hi:105},{g:2, lo:17, q1:109, med:316, q3:493, hi:493}];
const Zn_out1 = [170,155,140,125,112];
const Zn_out2 = [1093];
const Zn_vio1 = [[14,0.45],[19,0.62],[25,0.7],[33,0.69],[50,0.62],[64,0.47],[79,0.35],[91,0.18],[103,0.05],[115,0.02],[170,0]];
const Zn_vio2 = [[17,0.041],[61,0.047],[109,0.063],[200,0.08],[300,0.09],[400,0.07],[493,0.043],[570,0.027],[688,0.013],[806,0.008],[925,0.007],[1043,0.006],[1093,0]];
const Zn_jit1 = [[0.16,162],[0.17,121],[0.24,97],[0.3,91],[0.38,91],[-0.39,103],[-0.37,91],[-0.19,105],[-0.13,103],[-0.06,121],[0.06,97],[-0.36,80],[-0.22,75],[-0.08,85],[0.06,78],[0.2,82],[0.34,72],[-0.3,65],[-0.15,60],[0.0,68],[0.14,58],[0.28,63],[-0.38,55],[-0.24,50],[-0.1,54],[0.05,46],[0.2,52],[0.36,48],[-0.32,40],[-0.18,36],[-0.02,42],[0.12,34],[0.26,38],[-0.36,28],[-0.2,25],[-0.06,30],[0.1,22],[0.3,27],[-0.28,15],[0.0,12],[0.22,18],[-0.12,10],[0.38,15]];
const Zn_jit1b = [[-0.40,30],[-0.37,60],[-0.34,18],[-0.31,75],[-0.28,42],[-0.25,12],[-0.22,55],[-0.19,88],[-0.16,25],[-0.13,65],[-0.10,38],[-0.07,92],[-0.04,48],[-0.01,20],[0.02,70],[0.05,32],[0.08,58],[0.11,14],[0.14,44],[0.17,80],[0.20,26],[0.23,62],[0.26,35],[0.29,52],[0.32,20],[0.35,68],[0.38,40],[0.40,24],[-0.35,84],[-0.27,50],[-0.18,72],[-0.09,28],[0.00,85],[0.09,45],[0.18,66],[0.27,16],[0.36,55],[-0.21,35],[0.13,28],[0.31,78]];
const Zn_jit2 = [[-0.2,1093],[-0.33,999],[-0.1,889],[0.37,909],[-0.37,762],[0.03,757],[0.18,635],[0.29,617],[0.25,609],[-0.31,598],[-0.24,585],[0.19,590],[0.39,566],[-0.36,552],[0.39,543],[0.11,540],[-0.37,517],[0.15,505],[0.21,499],[0.15,487],[0.02,455],[-0.2,436],[0,434],[0.16,435],[0.21,435],[0.39,416],[0.05,395],[0.29,396],[-0.16,384],[-0.27,375],[0.18,369],[-0.35,343],[-0.03,343],[-0.03,316],[-0.38,302],[-0.22,326],[-0.13,296],[-0.3,259],[-0.17,247],[-0.26,235],[0.33,262],[0.39,245],[-0.34,194],[-0.11,174],[-0.06,180],[0.01,174],[0.01,148],[-0.28,138],[0.07,132],[-0.11,132],[-0.3,111],[-0.2,103],[0.17,103],[0.25,103],[0.39,105],[0.19,91],[-0.38,83],[-0.2,76],[-0.3,64],[-0.14,67],[-0.07,71],[0.25,56],[0.35,20]];

// axis ticks per element
const yTicks = {As:[0,10,20,30], Ca:[0,50000,100000,150000,200000], Co:[0,5,10], Cu:[0,200,400,600], Fe:[0,5000,10000,15000], K:[0,5000,10000,15000,20000], Mg:[0,5000,10000,15000,20000], Mn:[0,100,200,300,400], Na:[0,10000,20000,30000], Ni:[0,20,40,60], P:[0,50000,100000], Se:[0,50,100], Zn:[0,300,600,900]};
const yMinor = {As:[5,15,25], Ca:[25000,75000,125000,175000,225000], Co:[2.5,7.5,12.5], Cu:[100,300,500,700], Fe:[2500,7500,12500,17500], K:[2500,7500,12500,17500], Mg:[2500,7500,12500,17500,22500], Mn:[50,150,250,350,450], Na:[5000,15000,25000], Ni:[10,30,50,70], P:[25000,75000,125000], Se:[25,75,125], Zn:[150,450,750,1050]};
const yDomain = {As:[-1.25,31.3], Ca:[-9700,246500], Co:[-0.58,13.79], Cu:[-32.6,790], Fe:[-824,17730], K:[-230,20910], Mg:[-210,22630], Mn:[-22.5,496], Na:[-410,31570], Ni:[-3.5,78.2], P:[-4790,144960], Se:[-4.9,132.8], Zn:[-33,1142]};
const P_tickLabels = ["0e+00","5e+04","1e+05"];

const panelData = {
  As:{box:As_box, out:[As_out1,As_out2], vio:[As_vio1,As_vio2], jit:[As_jit1.concat(As_jit1b),As_jit2.concat(As_jit2b)]},
  Ca:{box:Ca_box, out:[Ca_out1,Ca_out2], vio:[Ca_vio1,Ca_vio2], jit:[Ca_jit1.concat(Ca_jit1b),Ca_jit2]},
  Co:{box:Co_box, out:[Co_out1,Co_out2], vio:[Co_vio1,Co_vio2], jit:[Co_jit1.concat(Co_jit1b),Co_jit2.concat(Co_jit2b)]},
  Cu:{box:Cu_box, out:[Cu_out1,Cu_out2], vio:[Cu_vio1,Cu_vio2], jit:[Cu_jit1.concat(Cu_jit1b),Cu_jit2.concat(Cu_jit2b)]},
  Fe:{box:Fe_box, out:[Fe_out1,Fe_out2], vio:[Fe_vio1,Fe_vio2], jit:[Fe_jit1.concat(Fe_jit1b),Fe_jit2.concat(Fe_jit2b)]},
  K:{box:K_box, out:[K_out1,K_out2], vio:[K_vio1,K_vio2], jit:[K_jit1,K_jit2]},
  Mg:{box:Mg_box, out:[Mg_out1,Mg_out2], vio:[Mg_vio1,Mg_vio2], jit:[Mg_jit1.concat(Mg_jit1b),Mg_jit2]},
  Mn:{box:Mn_box, out:[Mn_out1,Mn_out2], vio:[Mn_vio1,Mn_vio2], jit:[Mn_jit1.concat(Mn_jit1b),Mn_jit2.concat(Mn_jit2b)]},
  Na:{box:Na_box, out:[Na_out1,Na_out2], vio:[Na_vio1,Na_vio2], jit:[Na_jit1,Na_jit2]},
  Ni:{box:Ni_box, out:[Ni_out1,Ni_out2], vio:[Ni_vio1,Ni_vio2], jit:[Ni_jit1.concat(Ni_jit1b),Ni_jit2.concat(Ni_jit2b)]},
  P:{box:P_box, out:[P_out1,P_out2], vio:[P_vio1,P_vio2], jit:[P_jit1.concat(P_jit1b),P_jit2]},
  Se:{box:Se_box, out:[Se_out1,Se_out2], vio:[Se_vio1,Se_vio2], jit:[Se_jit1.concat(Se_jit1b),Se_jit2]},
  Zn:{box:Zn_box, out:[Zn_out1,Zn_out2], vio:[Zn_vio1,Zn_vio2], jit:[Zn_jit1.concat(Zn_jit1b),Zn_jit2]}
};

// ---------------- LAYOUT / STYLE ----------------
const FILL = {1:"#8FBEDF", 2:"#DCC92B"};
const DARK = "#333333";
const FONT = "'Liberation Sans', Arial, Helvetica, sans-serif";
const colLeft = [292, 1061, 1796, 2462];
const rowTop = [23, 618, 1212, 1807];
const PW = 514, PH = 394, SH = 98;
const ML = 280, MT = 4, MR = 4, MB = 100;
const BW = 0.375;

const chart = document.getElementById("chart");

// y title
const ns = "http://www.w3.org/2000/svg";
const tsvg = document.createElementNS(ns, "svg");
tsvg.setAttribute("width", 160); tsvg.setAttribute("height", 2400);
tsvg.style.position = "absolute"; tsvg.style.left = "0px"; tsvg.style.top = "0px";
const tt = document.createElementNS(ns, "text");
tt.setAttribute("transform", "translate(72,1215) rotate(-90)");
tt.setAttribute("text-anchor", "middle");
tt.setAttribute("font-family", FONT);
tt.setAttribute("font-weight", "bold");
tt.setAttribute("font-size", 66);
tt.setAttribute("fill", "#000");
tt.textContent = "Nutrient concentration (in mg/g dry weight)";
tsvg.appendChild(tt);
chart.appendChild(tsvg);

elements.forEach((name, i) => {
  const d = panelData[name];
  const col = i % 4, row = Math.floor(i / 4);
  const left = colLeft[col], top = rowTop[row];

  const strip = document.createElement("div");
  strip.className = "strip";
  Object.assign(strip.style, {left: left + "px", top: top + "px", width: PW + "px", height: (SH + 1) + "px"});
  strip.textContent = name;
  chart.appendChild(strip);

  const jit = [];
  d.jit.forEach((arr, k) => arr.forEach(([dx, v]) => jit.push({x: groups[k] + dx, v})));
  const outs = [];
  d.out.forEach((arr, k) => arr.forEach(v => outs.push({g: groups[k], v})));

  const marks = [
    Plot.gridY(yMinor[name], {stroke: "#EBEBEB", strokeOpacity: 1, strokeWidth: 2.2}),
    Plot.gridY(yTicks[name], {stroke: "#EBEBEB", strokeOpacity: 1, strokeWidth: 4.4}),
    Plot.gridX(groups, {stroke: "#EBEBEB", strokeOpacity: 1, strokeWidth: 4.4})
  ];
  d.vio.forEach((arr, k) => {
    const g = groups[k];
    marks.push(Plot.areaX(arr.map(([v, w]) => ({v, w})), {
      y: "v", x1: p => g - p.w, x2: p => g + p.w,
      fill: FILL[g], stroke: DARK, strokeWidth: 3.7, strokeLinejoin: "round",
      curve: "catmull-rom", clip: true
    }));
  });
  marks.push(
    Plot.ruleX(d.box, {x: "g", y1: "q3", y2: "hi", stroke: DARK, strokeWidth: 3.5}),
    Plot.ruleX(d.box, {x: "g", y1: "lo", y2: "q1", stroke: DARK, strokeWidth: 3.5})
  );
  groups.forEach(g => {
    marks.push(Plot.rect(d.box.filter(b => b.g === g), {
      x1: b => b.g - BW, x2: b => b.g + BW, y1: "q1", y2: "q3",
      fill: FILL[g], stroke: DARK, strokeWidth: 4
    }));
  });
  marks.push(
    Plot.ruleY(d.box, {y: "med", x1: b => b.g - BW, x2: b => b.g + BW, stroke: DARK, strokeWidth: 8}),
    Plot.dot(outs, {x: "g", y: "v", r: 8.5, fill: DARK}),
    Plot.dot(jit, {x: "x", y: "v", r: 5.6, fill: "#9E9E9E", fillOpacity: 0.34, stroke: "#999999", strokeOpacity: 0.6, strokeWidth: 1.6, clip: true}),
    Plot.frame({stroke: DARK, strokeWidth: 2.2}),
    Plot.axisY(yTicks[name], {
      tickFormat: name === "P" ? (t => P_tickLabels[yTicks.P.indexOf(t)]) : (t => String(t)),
      tickSize: 13, tickPadding: 11, fontSize: 61, stroke: DARK, strokeWidth: 4, fill: "#4D4D4D", label: null
    }),
    Plot.axisX(groups, {tickFormat: t => String(t), tickSize: 13, tickPadding: 8, fontSize: 61, stroke: DARK, strokeWidth: 4, fill: "#4D4D4D", label: null})
  );

  const svg = Plot.plot({
    width: ML + PW + MR, height: MT + PH + MB,
    marginLeft: ML, marginRight: MR, marginTop: MT, marginBottom: MB,
    style: {background: "transparent", overflow: "visible", fontFamily: FONT, color: "#4D4D4D", maxWidth: "none"},
    x: {domain: [0.307, 2.693], label: null},
    y: {domain: yDomain[name], label: null},
    marks
  });
  svg.style.position = "absolute";
  svg.style.left = (left - ML) + "px";
  svg.style.top = (top + SH - MT) + "px";
  chart.appendChild(svg);
});
</script></body></html>
